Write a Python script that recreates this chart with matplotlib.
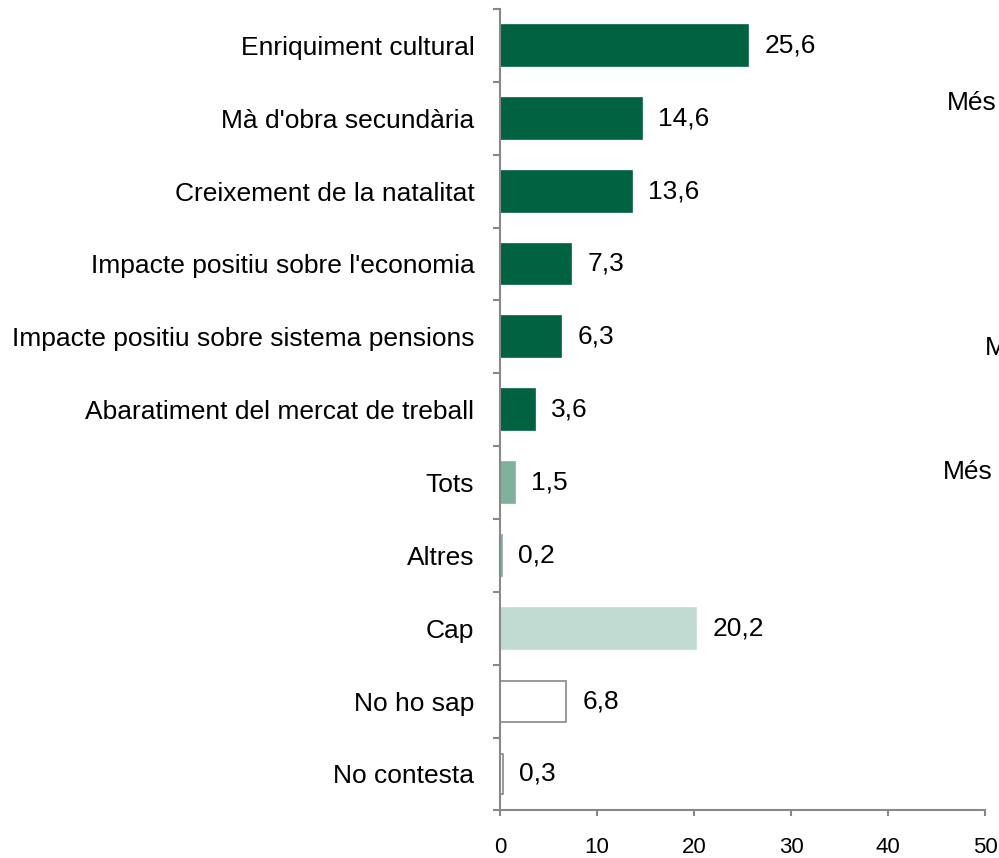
import matplotlib
matplotlib.use("Agg")
import matplotlib.pyplot as plt
import numpy as np

plt.rcParams['font.family'] = ['Liberation Sans', 'DejaVu Sans']

categories = ["Enriquiment cultural", "Mà d'obra secundària", "Creixement de la natalitat",
              "Impacte positiu sobre l'economia", "Impacte positiu sobre sistema pensions",
              "Abaratiment del mercat de treball", "Tots", "Altres", "Cap", "No ho sap", "No contesta"]
values = [25.6, 14.6, 13.6, 7.3, 6.3, 3.6, 1.5, 0.2, 20.2, 6.8, 0.3]
labels = ["25,6", "14,6", "13,6", "7,3", "6,3", "3,6", "1,5", "0,2", "20,2", "6,8", "0,3"]
xticks = [0, 10, 20, 30, 40, 50]

FS = 19
dark = "#006241"
facecolors = [dark]*6 + ["#7fb29d", "#7fb29d", "#c2dbd2", "white", "white"]
edgecolors = [dark]*6 + ["#7fb29d", "#7fb29d", "#c2dbd2", "#888888", "#888888"]

fig = plt.figure(figsize=(9.99, 8.58), dpi=100)
ax = fig.add_axes([0.5005, 0.0555, 0.4855, 0.934])

n = len(categories)
y = np.arange(n)
ax.barh(y, values, height=0.56, color=facecolors, edgecolor=edgecolors, linewidth=1.2)
ax.set_ylim(n - 0.5, -0.5)
ax.set_xlim(0, 50)

for yi, v, lab in zip(y, values, labels):
    ax.text(v + 1.7, yi, lab, va='center', ha='left', fontsize=FS, color='black')

ax.set_yticks(y)
ax.set_yticklabels(categories, fontsize=FS)
ax.tick_params(axis='y', which='major', length=0, pad=18.5)
ax.set_yticks(np.arange(-0.5, n, 1.0), minor=True)
ax.tick_params(axis='y', which='minor', length=5, color='#888888', width=1.5, direction='out')

ax.set_xticks(xticks)
ax.set_xticklabels([str(t) for t in xticks], fontsize=16)
ax.tick_params(axis='x', length=4, color='#888888', width=1.5, direction='out', pad=15.5)

for s in ['top', 'right']:
    ax.spines[s].set_visible(False)
for s in ['left', 'bottom']:
    ax.spines[s].set_color('#888888')
    ax.spines[s].set_linewidth(1.5)

# clipped text fragments from neighbouring chart
fig.text(947/999, 1 - 103/858, "Més", fontsize=FS, va='center', ha='left')
fig.text(985/999, 1 - 348/858, "Més", fontsize=FS, va='center', ha='left')
fig.text(943/999, 1 - 472/858, "Més", fontsize=FS, va='center', ha='left')

fig.savefig("out.png", dpi=100)
